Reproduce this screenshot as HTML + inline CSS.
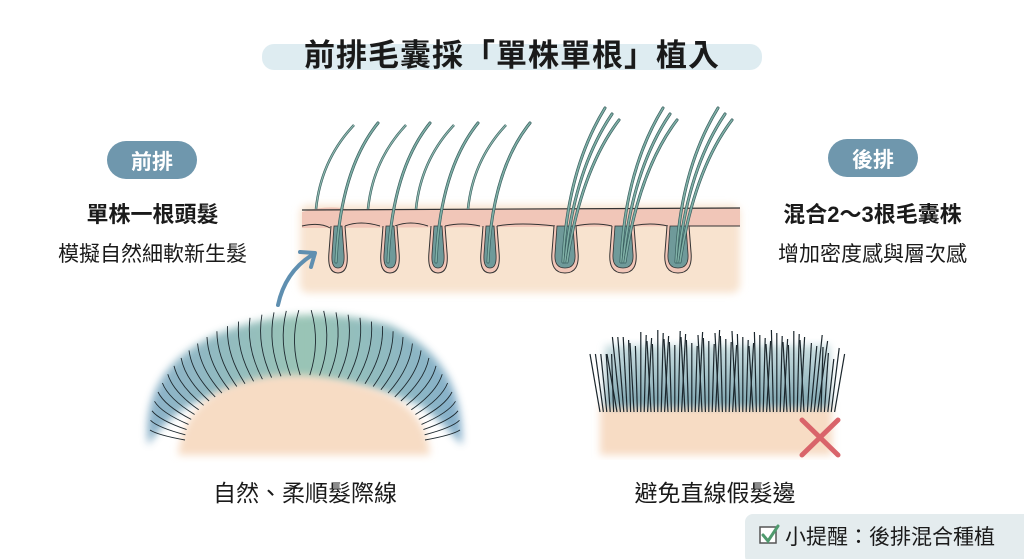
<!DOCTYPE html>
<html><head><meta charset="utf-8"><style>
html,body{margin:0;padding:0;background:#fff;}
body{width:1024px;height:559px;overflow:hidden;position:relative;font-family:"Liberation Sans","Noto Sans CJK TC",sans-serif;color:#1a1a1a;}
.t{position:absolute;white-space:nowrap;}
</style></head><body>
<svg id="s" width="1024" height="559" style="position:absolute;left:0;top:0">
<defs>
<filter id="blur"><feGaussianBlur stdDeviation="4"/></filter>
<linearGradient id="mound" x1="0" x2="1" y1="0" y2="0"><stop offset="0" stop-color="#7fa9c4"/><stop offset="0.5" stop-color="#8fbfae"/><stop offset="1" stop-color="#7aa7c6"/></linearGradient>
<linearGradient id="strip" x1="0" y1="0" x2="0" y2="1"><stop offset="0" stop-color="#c7dde0"/><stop offset="1" stop-color="#6f9aa6"/></linearGradient>
</defs>
<rect x="262" y="44" width="500" height="26" rx="12" fill="#d6e7ee" opacity="0.8"/>
<rect x="107" y="141" width="90" height="38" rx="19" fill="#6f97ad"/>
<rect x="828" y="139" width="90" height="38" rx="19" fill="#6f97ad"/>
<rect x="300" y="205" width="440" height="88" rx="8" fill="#f8e3cf" filter="url(#blur)"/>
<path d="M302 212 Q330 204 350 210 L740 208 L740 226 L302 228Z" fill="#f1c6b8"/>
<path d="M302 210 L740 208" stroke="#333" stroke-width="1.2" fill="none"/>
<path d="M302 226 Q320 222 330 228 M345 226 Q360 220 380 226 M395 226 Q410 220 428 226 M445 226 Q462 222 480 226 M497 226 Q520 222 555 226 M575 226 Q595 222 612 226 M632 226 Q650 222 668 226 M688 226 L740 226" stroke="#333" stroke-width="1" fill="none"/>
<g id="foll"></g>
<g id="hairs"></g>
<path d="M278 305 Q285 272 312 255" stroke="#5f8fb0" stroke-width="4" fill="none" stroke-linecap="round"/>
<path d="M300 252 L315 253 L311 267" stroke="#5f8fb0" stroke-width="4" fill="none" stroke-linecap="round" stroke-linejoin="round"/>
<path d="M148 445 Q140 370 215 335 Q300 300 390 325 Q465 360 462 445 Q440 420 420 405 Q300 360 190 405 Q165 420 148 445Z" fill="url(#mound)" filter="url(#blur)" opacity="0.9"/>
<path d="M178 455 Q185 395 250 380 Q300 368 360 385 Q425 400 430 455 Z" fill="#f7dcc4" filter="url(#blur)"/>
<g id="mh" stroke="#1e2a30" stroke-width="0.9" fill="none"></g>
<rect x="600" y="405" width="232" height="50" fill="#f7dcc4" filter="url(#blur)"/>
<rect x="605" y="345" width="225" height="62" fill="url(#strip)" filter="url(#blur)" opacity="0.9"/>
<g id="sh" stroke="#1b262c" stroke-width="1.2" fill="none"></g>
<path d="M802 420 L838 455 M838 420 L802 455" stroke="#d9646a" stroke-width="5" stroke-linecap="round"/>
<rect x="745" y="514" width="290" height="50" rx="8" fill="#e4ecee"/>
<rect x="760" y="527" width="16" height="16" fill="#fff" stroke="#555" stroke-width="1.5"/>
<path d="M763 535 L768 541 L778 526" stroke="#4f9a6e" stroke-width="3" fill="none" stroke-linecap="round"/>
</svg>
<div class="t" style="left:0;width:1024px;text-align:center;top:30px;font-size:31px;font-weight:bold;letter-spacing:1px;">前排毛囊採「單株單根」植入</div>
<div class="t" style="left:107px;width:90px;text-align:center;top:146px;font-size:21px;font-weight:bold;color:#fff;">前排</div>
<div class="t" style="left:828px;width:90px;text-align:center;top:144px;font-size:21px;font-weight:bold;color:#fff;">後排</div>
<div class="t" style="left:40px;width:225px;text-align:center;top:197px;font-size:22px;font-weight:bold;">單株一根頭髮</div>
<div class="t" style="left:30px;width:245px;text-align:center;top:238px;font-size:21px;">模擬自然細軟新生髮</div>
<div class="t" style="left:755px;width:235px;text-align:center;top:197px;font-size:22px;font-weight:bold;">混合2～3根毛囊株</div>
<div class="t" style="left:755px;width:235px;text-align:center;top:238px;font-size:21px;">增加密度感與層次感</div>
<div class="t" style="left:180px;width:250px;text-align:center;top:474px;font-size:23px;">自然、柔順髮際線</div>
<div class="t" style="left:590px;width:250px;text-align:center;top:474px;font-size:23px;">避免直線假髮邊</div>
<div class="t" style="left:785px;top:521px;font-size:21px;">小提醒：後排混合種植</div>
<script>
(function(){
var NS="http://www.w3.org/2000/svg";
function P(g,d,a){var e=document.createElementNS(NS,"path");e.setAttribute("d",d);for(var k in a)e.setAttribute(k,a[k]);document.getElementById(g).appendChild(e);}
var fx=[338,390,438,490,565,623,678];
fx.forEach(function(x,i){var w=i<4?9:13;
P("foll","M"+(x-w+2)+" 226 L"+(x-w)+" 252 Q"+(x-w-2)+" 273 "+x+" 273 Q"+(x+w+2)+" 273 "+(x+w)+" 252 L"+(x+w-2)+" 226",{fill:"#f1c6b8",stroke:"#333","stroke-width":1});
P("foll","M"+(x-w+5)+" 226 L"+(x-w+3)+" 254 Q"+(x-w+2)+" 268 "+x+" 268 Q"+(x+w-2)+" 268 "+(x+w-3)+" 254 L"+(x+w-5)+" 226Z",{fill:"#6f9a9a",stroke:"#333","stroke-width":0.8});
var n=i<4?1:3;
for(var j=0;j<n;j++){var o=j*7;
var d="M"+(x-2+j*2)+" 262 Q"+(x+2+o)+" 170 "+(x+40+o)+" "+(i<4?123:108+j*6);
P("hairs",d,{stroke:"#3a5f60","stroke-width":3,fill:"none","stroke-linecap":"round"});
P("hairs",d,{stroke:"#7fb0a6","stroke-width":1.6,fill:"none","stroke-linecap":"round"});}
if(i<4){var sx=x-22;var d2="M"+sx+" 209 Q"+(sx+5)+" 160 "+(sx+38)+" 125";
P("hairs",d2,{stroke:"#3a5f60","stroke-width":2.5,fill:"none"});
P("hairs",d2,{stroke:"#8fbbb0","stroke-width":1.2,fill:"none"});}
});
for(var k=0;k<40;k++){var t=k/39;var ang=Math.PI*(1-t);
var bx=305+Math.cos(ang)*120,by=395-Math.sin(ang)*20+(1-Math.sin(ang))*45;
var ex=305+Math.cos(ang)*155,ey=by-55*Math.sin(ang)-10;
var cx=(bx+ex)/2+(t<0.5?-10:10),cy=(by+ey)/2;
P("mh","M"+bx.toFixed(1)+" "+by.toFixed(1)+" Q"+cx.toFixed(1)+" "+cy.toFixed(1)+" "+ex.toFixed(1)+" "+ey.toFixed(1),{});}
for(var k=0;k<70;k++){var x=600+k*3.4;var tp=330+((k*37)%17)+(k<8?(8-k)*3:0)+(k>62?(k-62)*3:0);var lean=(k%5-2)*2+(k<10?-6:0)+(k>60?6:0);
P("sh","M"+x.toFixed(1)+" 412 L"+(x+lean).toFixed(1)+" "+tp,{});}
})();
</script>
</body></html>
